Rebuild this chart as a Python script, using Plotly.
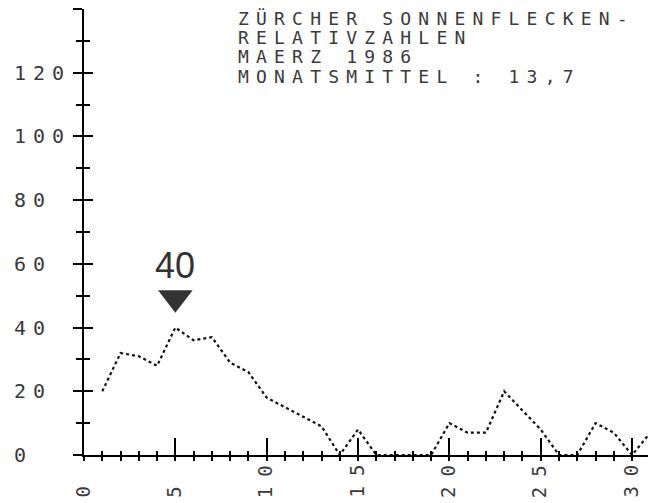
import plotly.graph_objects as go

# ---- data ----
days = list(range(1, 32))
values = [20, 32, 31, 28, 40, 36, 37, 29, 26, 18, 15, 12, 9, 0, 8,
          0, 0, 0, 0, 10, 7, 7, 20, 14, 8, 0, 0, 10, 7, 0, 7]
title_lines = ["ZÜRCHER SONNENFLECKEN-", "RELATIVZAHLEN", "MAERZ 1986",
               "MONATSMITTEL : 13,7"]
x_tick_vals = [0, 5, 10, 15, 20, 25, 30]
x_tick_text = ["0", "5", "10", "15", "20", "25", "30"]
y_tick_vals = [0, 20, 40, 60, 80, 100, 120]
y_tick_text = ["0", "20", "40", "60", "80", "100", "120"]

# page body has a default 8px margin -> work in screen pixels and convert
PAGE = 8
SW, SH = 656, 503
W, H = SW - PAGE, SH - PAGE
PLOT_L, PLOT_T, PLOT_W, PLOT_H = 84, 9, 570, 446   # screen pixels
ML, MT = PLOT_L - PAGE, PLOT_T - PAGE
MR = W - ML - PLOT_W
MB = H - MT - PLOT_H
X_RANGE = [0, 31.2]
Y_RANGE = [0, 140]

MONO = "DejaVu Sans Mono, Liberation Mono, monospace"
INK = "#3a3a3a"


def py_paper(py):
    return (PLOT_T + PLOT_H - py) / PLOT_H


def px_paper(px):
    return (px - PLOT_L) / PLOT_W


def spaced(t, ls):
    return f'<span style="letter-spacing:{ls}px">{t}</span>'


fig = go.Figure()

fig.add_trace(go.Scatter(
    x=days, y=values, mode="lines",
    line=dict(color="#111111", width=2.2, dash="3px,3px"),
    cliponaxis=False, hoverinfo="skip", showlegend=False,
))

# peak marker (triangle + value)
peak_i = max(range(len(values)), key=lambda i: values[i])
peak_day, peak_val = days[peak_i], values[peak_i]
fig.add_trace(go.Scatter(
    x=[peak_day], y=[peak_val + 9.4], mode="markers",
    marker=dict(symbol="triangle-down", size=30, color="#333333",
                line=dict(width=0)),
    cliponaxis=False, hoverinfo="skip", showlegend=False,
))
fig.add_annotation(
    x=peak_day, y=peak_val + 19.5, xref="x", yref="y",
    text=str(peak_val), showarrow=False,
    font=dict(family="Liberation Sans, Arial, sans-serif", size=36,
              color="#333333"),
    xanchor="center", yanchor="middle",
)

# dummy trace to activate overlay axes
fig.add_trace(go.Scatter(x=[None], y=[None], xaxis="x2", yaxis="y2",
                         showlegend=False, hoverinfo="skip"))

axis_common = dict(showgrid=False, zeroline=False, showticklabels=False,
                   linecolor="black", linewidth=2, tickcolor="black",
                   tickwidth=2, fixedrange=True)

fig.update_layout(
    width=W, height=H,
    margin=dict(l=ML, r=MR, t=MT, b=MB),
    paper_bgcolor="white", plot_bgcolor="white",
    showlegend=False,
    xaxis=dict(range=X_RANGE, showline=True, tickmode="linear", tick0=0,
               dtick=1, ticks="outside", ticklen=4, **axis_common),
    xaxis2=dict(range=X_RANGE, overlaying="x", anchor="y", side="bottom",
                showline=False, tickmode="linear", tick0=0, dtick=5,
                ticks="inside", ticklen=17,
                minor=dict(dtick=1, tick0=0, ticks="inside", ticklen=4,
                           tickwidth=2, tickcolor="black"),
                **axis_common),
    yaxis=dict(range=Y_RANGE, showline=True, tickmode="linear", tick0=0,
               dtick=20, ticks="outside", ticklen=9,
               minor=dict(dtick=10, tick0=0, ticks="outside", ticklen=6,
                          tickwidth=2, tickcolor="black"),
               **axis_common),
    yaxis2=dict(range=Y_RANGE, overlaying="y", anchor="x", side="left",
                showline=False, tickmode="linear", tick0=0, dtick=20,
                ticks="inside", ticklen=9,
                minor=dict(dtick=10, tick0=0, ticks="inside", ticklen=6,
                           tickwidth=2, tickcolor="black"),
                **axis_common),
)

# title block (dot-matrix style)
title_y_px = [19, 38, 57, 76]
for line, py in zip(title_lines, title_y_px):
    fig.add_annotation(
        x=px_paper(236), y=py_paper(py), xref="paper", yref="paper",
        text=spaced(line, 7.2), showarrow=False,
        font=dict(family=MONO, size=18, color=INK),
        xanchor="left", yanchor="middle",
    )

# y tick labels, left aligned
for v, t in zip(y_tick_vals, y_tick_text):
    fig.add_annotation(
        x=px_paper(12), y=v, xref="paper", yref="y",
        text=spaced(t, 7), showarrow=False,
        font=dict(family=MONO, size=20, color=INK),
        xanchor="left", yanchor="middle",
    )

# x tick labels, rotated, bottom aligned
for v, t in zip(x_tick_vals, x_tick_text):
    fig.add_annotation(
        x=v, y=py_paper(500), xref="x", yref="paper",
        text=spaced(t, 10), showarrow=False, textangle=-90,
        font=dict(family=MONO, size=19, color=INK),
        xanchor="center", yanchor="bottom", xshift=-2,
    )

fig.write_html("out.html")
